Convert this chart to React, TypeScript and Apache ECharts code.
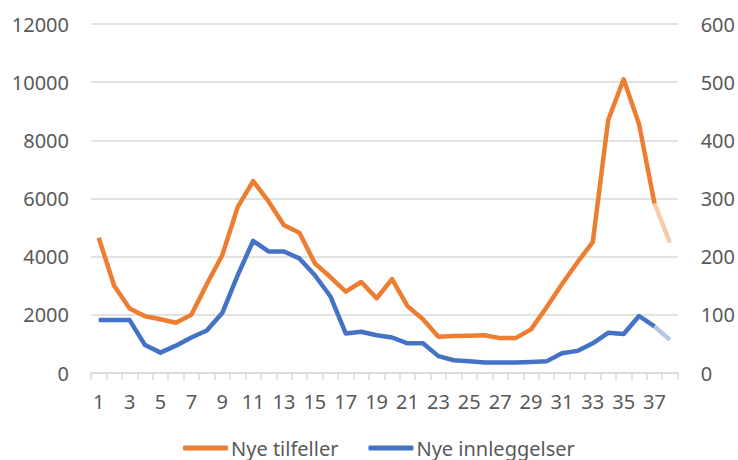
import React, { useEffect, useRef } from "react";
import * as echarts from "echarts";

const categories: string[] = Array.from({ length: 38 }, (_, i) => String(i + 1));

// Nye tilfeller (left axis), weeks 1..37 solid, 37..38 faded
const nyeTilfeller: number[] = [
  4650, 3000, 2220, 1950, 1850, 1730, 2000, 3050, 4050, 5700,
  6600, 5900, 5080, 4820, 3770, 3300, 2800, 3130, 2570, 3230,
  2300, 1850, 1250, 1270, 1280, 1300, 1200, 1200, 1500, 2250,
  3050, 3800, 4500, 8700, 10100, 8550, 5830,
];
const nyeTilfellerProg: number[] = [5830, 4480];

// Nye innleggelser (right axis)
const nyeInnleggelser: number[] = [
  91, 91, 91, 48, 35, 47, 61, 73, 103, 168,
  227, 209, 209, 197, 168, 132, 68, 71, 65, 61,
  51, 51, 29, 22, 20, 18, 18, 18, 19, 20,
  34, 38, 51, 69, 67, 98, 80,
];
const nyeInnleggelserProg: number[] = [80, 57];

const leftTicks = { min: 0, max: 12000, interval: 2000 };
const rightTicks = { min: 0, max: 600, interval: 100 };

const ORANGE = "#ED7D31";
const BLUE = "#4472C4";
const ORANGE_FADED = "#F8CBAD";
const BLUE_FADED = "#B4C7E7";

function padProg(prog: number[]): (number | null)[] {
  const arr: (number | null)[] = categories.map(() => null);
  const start = categories.length - prog.length;
  prog.forEach((v, i) => (arr[start + i] = v));
  return arr;
}

export default function App() {
  const ref = useRef<HTMLDivElement>(null);
  useEffect(() => {
    document.body.style.margin = "0";
    if (!ref.current) return;
    const chart = echarts.init(ref.current, undefined, { renderer: "svg" });
    const font = "'Noto Sans', 'Open Sans', sans-serif";
    const plain = (v: number) => String(v);
    chart.setOption({
      animation: false,
      textStyle: { fontFamily: font },
      grid: { left: 91, right: 60, top: 24, bottom: 87, containLabel: false },
      legend: {
        data: ["Nye tilfeller", "Nye innleggelser"],
        top: 433,
        left: 178,
        icon: "roundRect",
        itemWidth: 45,
        itemHeight: 5,
        itemGap: 30,
        textStyle: { fontSize: 20, color: "#595959", fontFamily: font, padding: [0, 0, 0, -2] },
      },
      xAxis: {
        type: "category",
        data: categories,
        boundaryGap: true,
        axisLine: { show: true, lineStyle: { color: "#D9D9D9", width: 1.5 } },
        axisTick: { show: true, interval: 0, length: 7, lineStyle: { color: "#D9D9D9", width: 1.5 } },
        axisLabel: { interval: 1, margin: 18, fontSize: 20, color: "#595959", fontFamily: font },
        splitLine: { show: false },
      },
      yAxis: [
        {
          type: "value",
          ...leftTicks,
          axisLine: { show: false },
          axisTick: { show: false },
          axisLabel: { margin: 22, fontSize: 20, color: "#595959", fontFamily: font, formatter: plain },
          splitLine: { show: true, lineStyle: { color: "#D9D9D9", width: 1.5 } },
        },
        {
          type: "value",
          ...rightTicks,
          position: "right",
          axisLine: { show: false },
          axisTick: { show: false },
          axisLabel: { margin: 23, fontSize: 20, color: "#595959", fontFamily: font, formatter: plain },
          splitLine: { show: false },
        },
      ],
      series: [
        {
          name: "Nye tilfeller",
          type: "line",
          yAxisIndex: 0,
          data: nyeTilfeller,
          showSymbol: false,
          symbol: "none",
          itemStyle: { color: ORANGE },
          lineStyle: { color: ORANGE, width: 4.5, join: "round" },
          z: 3,
        },
        {
          name: "Nye tilfeller prognose",
          type: "line",
          yAxisIndex: 0,
          data: padProg(nyeTilfellerProg),
          showSymbol: false,
          symbol: "none",
          itemStyle: { color: ORANGE_FADED },
          lineStyle: { color: ORANGE_FADED, width: 4.5 },
          z: 2,
        },
        {
          name: "Nye innleggelser",
          type: "line",
          yAxisIndex: 1,
          data: nyeInnleggelser,
          showSymbol: false,
          symbol: "none",
          itemStyle: { color: BLUE },
          lineStyle: { color: BLUE, width: 4.5, join: "round" },
          z: 3,
        },
        {
          name: "Nye innleggelser prognose",
          type: "line",
          yAxisIndex: 1,
          data: padProg(nyeInnleggelserProg),
          showSymbol: false,
          symbol: "none",
          itemStyle: { color: BLUE_FADED },
          lineStyle: { color: BLUE_FADED, width: 4.5 },
          z: 2,
        },
      ],
    });
    return () => chart.dispose();
  }, []);
  return <div ref={ref} style={{ width: 738, height: 460 }} />;
}
